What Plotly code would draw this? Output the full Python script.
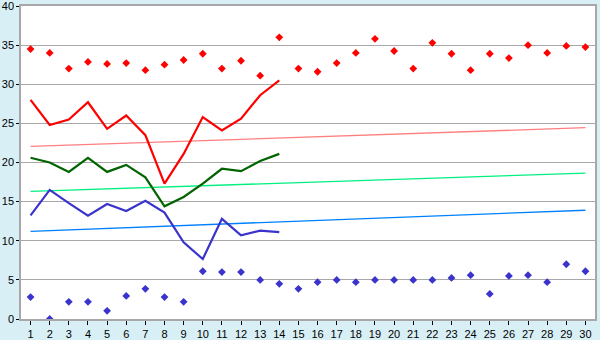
import plotly.graph_objects as go

days = list(range(1, 31))
days14 = list(range(1, 15))

max_vals = [34.5, 34.0, 32.0, 32.85, 32.6, 32.7, 31.8, 32.5, 33.1, 33.9,
            32.0, 33.0, 31.1, 36.0, 32.0, 31.6, 32.7, 34.0, 35.8, 34.25,
            32.0, 35.3, 33.9, 31.8, 33.9, 33.35, 35.0, 34.0, 34.9, 34.75]
min_vals = [2.8, 0.0, 2.2, 2.2, 1.05, 2.95, 3.85, 2.8, 2.2, 6.1,
            6.0, 6.0, 5.0, 4.5, 3.85, 4.7, 5.0, 4.7, 5.0, 5.0,
            5.0, 5.0, 5.25, 5.6, 3.2, 5.5, 5.6, 4.7, 7.0, 6.1]
red_line = [28.0, 24.8, 25.5, 27.7, 24.3, 26.0, 23.5, 17.3, 21.1, 25.8,
            24.1, 25.6, 28.6, 30.5]
green_line = [20.6, 20.0, 18.8, 20.6, 18.8, 19.7, 18.1, 14.4, 15.6, 17.3,
              19.2, 18.9, 20.2, 21.1]
blue_line = [13.25, 16.5, 14.8, 13.2, 14.7, 13.8, 15.1, 13.6, 9.8, 7.66,
             12.8, 10.7, 11.3, 11.1]
trend_x = [1, 30]
red_trend = [22.05, 24.45]
green_trend = [16.3, 18.65]
blue_trend = [11.2, 13.9]

y_ticks = [0, 5, 10, 15, 20, 25, 30, 35, 40]

fig = go.Figure()
fig.add_trace(go.Scatter(x=trend_x, y=red_trend, mode="lines",
                         line=dict(color="#FF7F7F", width=1.3)))
fig.add_trace(go.Scatter(x=trend_x, y=green_trend, mode="lines",
                         line=dict(color="#00F080", width=1.3)))
fig.add_trace(go.Scatter(x=trend_x, y=blue_trend, mode="lines",
                         line=dict(color="#0080FF", width=1.3)))
fig.add_trace(go.Scatter(x=days14, y=red_line, mode="lines",
                         line=dict(color="#FF0000", width=2.2)))
fig.add_trace(go.Scatter(x=days14, y=green_line, mode="lines",
                         line=dict(color="#006400", width=2.2)))
fig.add_trace(go.Scatter(x=days14, y=blue_line, mode="lines",
                         line=dict(color="#3A33CC", width=2.2)))
fig.add_trace(go.Scatter(x=days, y=max_vals, mode="markers",
                         marker=dict(symbol="diamond", size=6, color="#FF0000")))
fig.add_trace(go.Scatter(x=days, y=min_vals, mode="markers",
                         marker=dict(symbol="diamond", size=6, color="#3A33CC")))

fig.update_layout(
    width=600, height=340,
    margin=dict(l=21, r=5, t=6, b=21),
    paper_bgcolor="#D9EFF6",
    plot_bgcolor="#FFFFFF",
    showlegend=False,
    font=dict(family="Liberation Sans", size=11, color="#000000"),
)
fig.update_xaxes(range=[0.5, 30.5], tickmode="array", tickvals=days,
                 ticktext=[str(d) for d in days], automargin=False,
                 ticklabeloverflow="allow",
                 showgrid=False, zeroline=False,
                 showline=True, linecolor="#A8A8A8", linewidth=1.5, mirror=True,
                 ticks="outside", ticklen=4, tickcolor="#000000",
                 tickfont=dict(size=11))
fig.update_yaxes(range=[0, 40], tickmode="array", tickvals=y_ticks,
                 automargin=False, ticklabeloverflow="allow",
                 showgrid=True, gridcolor="#A8A8A8", gridwidth=1,
                 zeroline=False,
                 showline=True, linecolor="#A8A8A8", linewidth=1.5, mirror=True,
                 ticks="outside", ticklen=3, tickcolor="#000000",
                 tickfont=dict(size=11))

fig.write_html("out.html")
